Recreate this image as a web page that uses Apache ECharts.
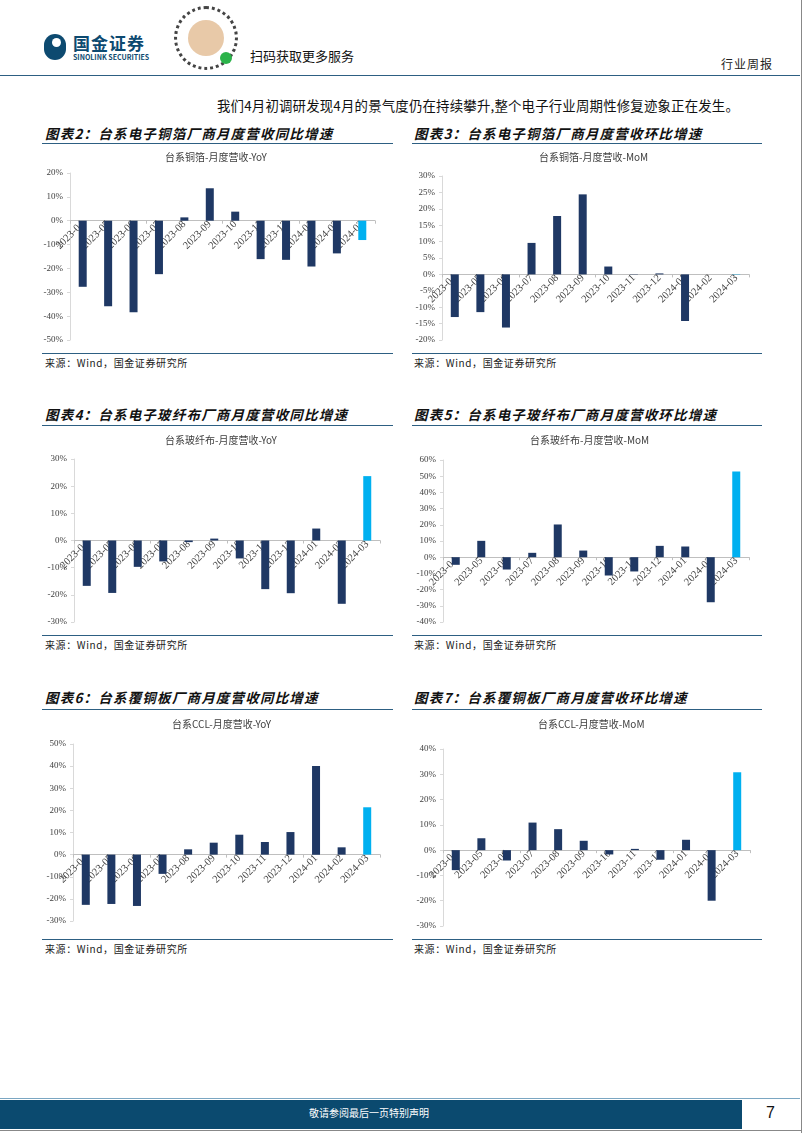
<!DOCTYPE html>
<html><head><meta charset="utf-8">
<script src="https://cdn.jsdelivr.net/npm/echarts@6/dist/echarts.min.js"></script>
<style>
html,body{margin:0;padding:0;background:#fff;}
body{width:802px;height:1133px;position:relative;overflow:hidden;font-family:"Noto Sans CJK SC",sans-serif;}
.abs{position:absolute;white-space:nowrap;}
.hline{position:absolute;height:0;border-top:1.5px solid #2d5f82;}
.sec{position:absolute;font-size:13.5px;font-weight:bold;font-style:italic;letter-spacing:1.2px;color:#111;line-height:18px;}
.src{position:absolute;font-size:10px;color:#222;letter-spacing:0.6px;line-height:12px;}
.chart{position:absolute;}
</style></head>
<body>
<!-- header -->
<div class="abs" style="left:44px;top:34px;width:22px;height:26px;border-radius:11px;background:#0d4a70;"></div>
<div class="abs" style="left:52px;top:38px;width:9px;height:9px;border-radius:5px;background:#fff;"></div>
<div class="abs" style="left:73px;top:33px;font-size:17px;font-weight:bold;color:#0d4a70;line-height:20px;letter-spacing:1px;">国金证券</div>
<div class="abs" style="left:73px;top:53px;font-size:7px;font-weight:bold;color:#0d4a70;line-height:8px;">SINOLINK SECURITIES</div>
<div class="abs" style="left:174px;top:6px;width:64px;height:64px;border-radius:32px;border:3px dotted #444;box-sizing:border-box;"></div>
<div class="abs" style="left:188px;top:20px;width:36px;height:36px;border-radius:18px;background:#e8c9a8;"></div>
<div class="abs" style="left:220px;top:52px;width:12px;height:12px;border-radius:6px;background:#2bb34a;"></div>
<div class="abs" style="left:250px;top:48px;font-size:13px;color:#111;line-height:16px;">扫码获取更多服务</div>
<div class="abs" style="left:721px;top:57px;font-size:12px;color:#222;line-height:14px;letter-spacing:1px;">行业周报</div>
<div class="hline" style="left:0;top:75px;width:800px;border-top:1px solid #2d5f82;"></div>
<div class="abs" style="right:0;top:0;width:1px;height:1133px;background:#888;"></div>

<div class="abs" style="left:217px;top:96px;font-size:13.4px;color:#111;line-height:18px;letter-spacing:0.2px;">我们4月初调研发现4月的景气度仍在持续攀升,整个电子行业周期性修复迹象正在发生。</div>

<!-- section titles -->
<div class="sec" style="left:45px;top:124px;">图表2：台系电子铜箔厂商月度营收同比增速</div>
<div class="sec" style="left:414px;top:124px;">图表3：台系电子铜箔厂商月度营收环比增速</div>
<div class="hline" style="left:42px;top:143px;width:351px;"></div>
<div class="hline" style="left:412px;top:143px;width:350px;"></div>
<div class="hline" style="left:42px;top:353px;width:351px;"></div>
<div class="hline" style="left:412px;top:353px;width:350px;"></div>
<div class="src" style="left:45px;top:357px;">来源：Wind，国金证券研究所</div>
<div class="src" style="left:414px;top:357px;">来源：Wind，国金证券研究所</div>

<div class="sec" style="left:45px;top:405px;">图表4：台系电子玻纤布厂商月度营收同比增速</div>
<div class="sec" style="left:414px;top:405px;">图表5：台系电子玻纤布厂商月度营收环比增速</div>
<div class="hline" style="left:42px;top:425px;width:351px;"></div>
<div class="hline" style="left:412px;top:425px;width:350px;"></div>
<div class="hline" style="left:42px;top:635px;width:351px;"></div>
<div class="hline" style="left:412px;top:635px;width:350px;"></div>
<div class="src" style="left:45px;top:639px;">来源：Wind，国金证券研究所</div>
<div class="src" style="left:414px;top:639px;">来源：Wind，国金证券研究所</div>

<div class="sec" style="left:45px;top:688px;">图表6：台系覆铜板厂商月度营收同比增速</div>
<div class="sec" style="left:414px;top:688px;">图表7：台系覆铜板厂商月度营收环比增速</div>
<div class="hline" style="left:42px;top:709px;width:351px;"></div>
<div class="hline" style="left:412px;top:709px;width:350px;"></div>
<div class="hline" style="left:42px;top:939px;width:351px;"></div>
<div class="hline" style="left:412px;top:939px;width:350px;"></div>
<div class="src" style="left:45px;top:943px;">来源：Wind，国金证券研究所</div>
<div class="src" style="left:414px;top:943px;">来源：Wind，国金证券研究所</div>

<div id="c2" class="chart" style="left:40px;top:145px;width:360px;height:205px;"></div>
<div id="c3" class="chart" style="left:410px;top:145px;width:360px;height:205px;"></div>
<div id="c4" class="chart" style="left:40px;top:428px;width:360px;height:202px;"></div>
<div id="c5" class="chart" style="left:410px;top:428px;width:360px;height:202px;"></div>
<div id="c6" class="chart" style="left:40px;top:712px;width:360px;height:223px;"></div>
<div id="c7" class="chart" style="left:410px;top:712px;width:360px;height:223px;"></div>

<!-- footer -->
<div class="abs" style="left:0;top:1098px;width:800px;height:1px;background:#7aa6c2;"></div>
<div class="abs" style="left:0;top:1100px;width:742px;height:29px;background:#0b4a6f;"></div>
<div class="abs" style="left:309px;top:1107px;font-size:10px;color:#fff;line-height:12px;">敬请参阅最后一页特别声明</div>
<div class="abs" style="left:766px;top:1104px;font-size:16px;color:#111;line-height:18px;font-family:'Liberation Sans',sans-serif;">7</div>
<div class="abs" style="left:0;top:1130px;width:802px;height:1px;background:#888;"></div>

<script>
const months = ['2023-04','2023-05','2023-06','2023-07','2023-08','2023-09','2023-10','2023-11','2023-12','2024-01','2024-02','2024-03'];
const cuFoilYoY = [-27.7,-35.9,-38.4,-22.4,1.4,13.6,3.8,-16.1,-16.4,-19.2,-13.7,-8.1];
const cuFoilMoM = [-13.0,-11.5,-16.2,9.6,17.8,24.4,2.4,-0.1,0.3,-14.2,0,-0.1];
const glassYoY = [-16.7,-19.3,-9.7,-7.7,-0.6,0.7,-6.6,-17.9,-19.4,4.4,-23.3,23.7];
const glassMoM = [-4.7,10.1,-7.6,2.7,20.2,4.1,-11.3,-8.8,7.0,6.6,-27.8,52.9];
const cclYoY = [-22.7,-22.3,-23.2,-8.7,2.4,5.4,9.0,5.7,10.2,40.1,3.3,21.4];
const cclMoM = [-7.9,4.7,-4.1,10.9,8.3,3.7,-1.7,0.5,-3.8,4.1,-20.0,30.8];

const NAVY = '#1f3864', LIGHT = '#00b0f0';

function makeChart(id, title, values, yMin, yMax, yInt, grid) {
  const el = document.getElementById(id);
  const chart = echarts.init(el, null, {renderer:'canvas'});
  const gridH = el.clientHeight - grid.top - grid.bottom;
  const zeroOffset = -((0 - yMin) / (yMax - yMin)) * gridH;
  chart.setOption({
    animation:false,
    title:{text:title,left:grid.titleX,top:2,textStyle:{fontSize:10,fontWeight:'normal',color:'#404040',fontFamily:'"Noto Sans CJK SC",serif'}},
    grid:{left:grid.left,right:grid.right,top:grid.top,bottom:grid.bottom,containLabel:false,outerBoundsMode:'none'},
    xAxis:[
      {type:'category',data:months,
        axisLine:{onZero:true,lineStyle:{color:'#bfbfbf',width:1}},
        axisTick:{show:true,length:3,lineStyle:{color:'#bfbfbf'}},
        axisLabel:{show:false}},
      {type:'category',data:months,position:'bottom',offset:zeroOffset,
        axisLine:{show:false,onZero:false},
        axisTick:{show:false},
        axisLabel:{interval:0,rotate:45,fontSize:10.5,color:'#404040',margin:2,fontFamily:'"Liberation Serif",serif'}}
    ],
    yAxis:{type:'value',min:yMin,max:yMax,interval:yInt,
      splitLine:{show:false},
      axisLine:{show:true,lineStyle:{color:'#d9d9d9'}},
      axisTick:{show:true,length:3,lineStyle:{color:'#d9d9d9'}},
      axisLabel:{formatter:'{value}%',fontSize:9,color:'#404040',margin:7,fontFamily:'"Liberation Serif",serif'}},
    series:[{type:'bar',barWidth:8,xAxisIndex:0,
      data:values.map((v,i)=>({value:v,itemStyle:{color:i===values.length-1?LIGHT:NAVY}}))}]
  });
}

makeChart('c2','台系铜箔-月度营收-YoY',cuFoilYoY,-50,20,10,{left:30,right:25,top:28,bottom:10,titleX:120});
makeChart('c3','台系铜箔-月度营收-MoM',cuFoilMoM,-20,30,5,{left:32,right:21,top:31,bottom:10,titleX:124});
makeChart('c4','台系玻纤布-月度营收-YoY',glassYoY,-30,30,10,{left:34,right:20,top:31,bottom:8,titleX:120});
makeChart('c5','台系玻纤布-月度营收-MoM',glassMoM,-40,60,10,{left:33,right:21,top:32,bottom:8,titleX:115});
makeChart('c6','台系CCL-月度营收-YoY',cclYoY,-30,50,10,{left:33,right:20,top:32,bottom:14,titleX:127});
makeChart('c7','台系CCL-月度营收-MoM',cclMoM,-30,40,10,{left:33,right:20,top:37,bottom:9,titleX:123});
</script>
</body></html>
